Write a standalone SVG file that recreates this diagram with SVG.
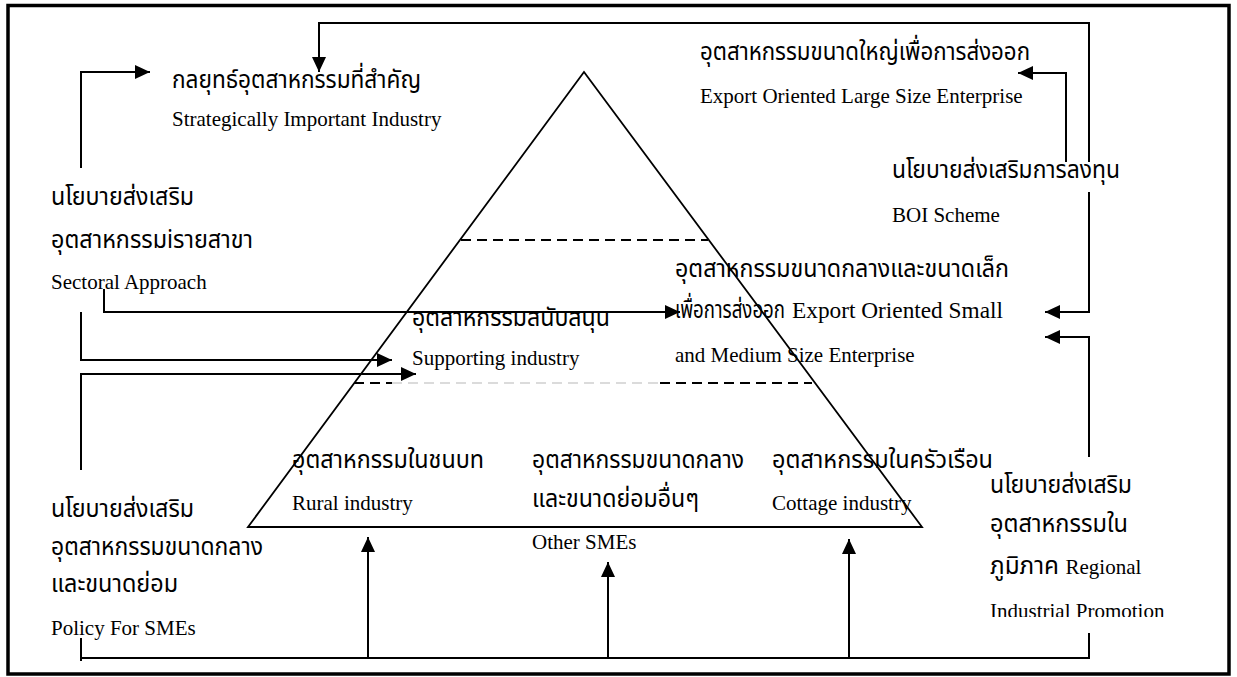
<svg xmlns="http://www.w3.org/2000/svg" width="1237" height="677" viewBox="0 0 1237 677">
<style>
.en{font-family:"Liberation Serif","Times New Roman",serif;font-size:21px;fill:#000}
.en2{font-family:"Liberation Serif","Times New Roman",serif;font-size:23.3px;fill:#000}
.th{font-family:"Noto Sans Thai","Noto Serif Thai","Noto Sans","DejaVu Sans",sans-serif;font-size:25px;fill:#000}
.ln{fill:none;stroke:#000;stroke-width:2}
.ar{fill:none;stroke:#000;stroke-width:2;marker-end:url(#ah)}
.tri{fill:none;stroke:#000;stroke-width:1.8}
.dash{fill:none;stroke:#000;stroke-width:1.8;stroke-dasharray:10 6}
</style>
<defs>
<marker id="ah" markerUnits="userSpaceOnUse" viewBox="0 0 15 14" refX="15" refY="7" markerWidth="15" markerHeight="14" orient="auto">
<path d="M0,0 L15,7 L0,14 z" fill="#000"/>
</marker>
<clipPath id="clipIP"><rect x="980" y="590" width="220" height="27"/></clipPath>
</defs>
<rect x="0" y="0" width="1237" height="677" fill="#fff"/>
<rect x="8" y="5.5" width="1221" height="668.5" fill="none" stroke="#000" stroke-width="3.5"/>

<g id="pyramid">
<path class="tri" d="M248,527 L584,72 L922,527 Z"/>
<line class="dash" x1="461" y1="240" x2="708" y2="240"/>
<line class="dash" x1="354" y1="383" x2="392" y2="383"/>
<line x1="392" y1="383" x2="660" y2="383" stroke="#d0d0d0" stroke-width="1.5" stroke-dasharray="10 6"/>
<line class="dash" x1="660" y1="383" x2="812" y2="383"/>
</g>

<g id="connectors">
<polyline class="ar" points="1089,162 1089,23 319,23 319,72"/>
<polyline class="ar" points="1089,192 1089,312 1045,312"/>
<polyline class="ar" points="1066,162 1066,73 1018,73"/>
<polyline class="ar" points="1089,457 1089,337 1045,337"/>
<polyline class="ar" points="81,168 81,72 150,72"/>
<polyline class="ar" points="81,312 81,360 392,360"/>
<polyline class="ar" points="104,289 104,312 680,312"/>
<polyline class="ar" points="81,470 81,374 416,374"/>
<polyline class="ln" points="81,638 81,661"/>
<polyline class="ln" points="81,658 1089,658 1089,633"/>
<line class="ar" x1="368" y1="658" x2="368" y2="537"/>
<line class="ar" x1="608" y1="658" x2="608" y2="562"/>
<line class="ar" x1="849" y1="658" x2="849" y2="539"/>
</g>

<g id="strategic">
<text class="th" x="172" y="88" textLength="249" lengthAdjust="spacingAndGlyphs">กลยุทธ์อุตสาหกรรมที่สำคัญ</text>
<text class="en" x="172" y="126">Strategically Important Industry</text>
</g>

<g id="sectoral">
<text class="th" x="51" y="205" textLength="143" lengthAdjust="spacingAndGlyphs">นโยบายส่งเสริม</text>
<text class="th" x="51" y="248" textLength="202" lengthAdjust="spacingAndGlyphs">อุตสาหกรรมiรายสาขา</text>
<text class="en" x="51" y="289">Sectoral Approach</text>
</g>

<g id="export-large">
<text class="th" x="700" y="60" textLength="330" lengthAdjust="spacingAndGlyphs">อุตสาหกรรมขนาดใหญ่เพื่อการส่งออก</text>
<text class="en" x="700" y="103">Export Oriented Large Size Enterprise</text>
</g>

<g id="boi">
<text class="th" x="892" y="178" textLength="228" lengthAdjust="spacingAndGlyphs">นโยบายส่งเสริมการลงทุน</text>
<text class="en" x="892" y="222">BOI Scheme</text>
</g>

<g id="export-sme">
<text class="th" x="675" y="277" textLength="334" lengthAdjust="spacingAndGlyphs">อุตสาหกรรมขนาดกลางและขนาดเล็ก</text>
<text class="th" style="font-size:19.5px" transform="translate(675,318) scale(1,1.28)" x="0" y="0" textLength="110" lengthAdjust="spacingAndGlyphs">เพื่อการส่งออก</text>
<text class="en2" x="792" y="318">Export Oriented Small</text>
<text class="en" x="675" y="362">and Medium Size Enterprise</text>
</g>

<g id="supporting">
<text class="th" x="412" y="326" textLength="198" lengthAdjust="spacingAndGlyphs">อุตสาหกรรมสนับสนุน</text>
<text class="en" x="412" y="365">Supporting industry</text>
</g>

<g id="rural">
<text class="th" x="292" y="468" textLength="192" lengthAdjust="spacingAndGlyphs">อุตสาหกรรมในชนบท</text>
<text class="en" x="292" y="510">Rural industry</text>
</g>

<g id="other-smes">
<text class="th" x="532" y="468" textLength="212" lengthAdjust="spacingAndGlyphs">อุตสาหกรรมขนาดกลาง</text>
<text class="th" x="532" y="507" textLength="167" lengthAdjust="spacingAndGlyphs">และขนาดย่อมอื่นๆ</text>
<text class="en" x="532" y="549">Other SMEs</text>
</g>

<g id="cottage">
<text class="th" x="772" y="468" textLength="221" lengthAdjust="spacingAndGlyphs">อุตสาหกรรมในครัวเรือน</text>
<text class="en" x="772" y="510">Cottage industry</text>
</g>

<g id="sme-policy">
<text class="th" x="51" y="517" textLength="143" lengthAdjust="spacingAndGlyphs">นโยบายส่งเสริม</text>
<text class="th" x="51" y="555" textLength="212" lengthAdjust="spacingAndGlyphs">อุตสาหกรรมขนาดกลาง</text>
<text class="th" x="51" y="592" textLength="127" lengthAdjust="spacingAndGlyphs">และขนาดย่อม</text>
<text class="en" x="51" y="635">Policy For SMEs</text>
</g>

<g id="regional">
<text class="th" x="990" y="493" textLength="142" lengthAdjust="spacingAndGlyphs">นโยบายส่งเสริม</text>
<text class="th" x="990" y="532" textLength="138" lengthAdjust="spacingAndGlyphs">อุตสาหกรรมใน</text>
<text class="th" x="990" y="574"><tspan textLength="69" lengthAdjust="spacingAndGlyphs">ภูมิภาค</tspan> <tspan class="en">Regional</tspan></text>
<text class="en" x="990" y="618" clip-path="url(#clipIP)">Industrial Promotion</text>
</g>
</svg>
